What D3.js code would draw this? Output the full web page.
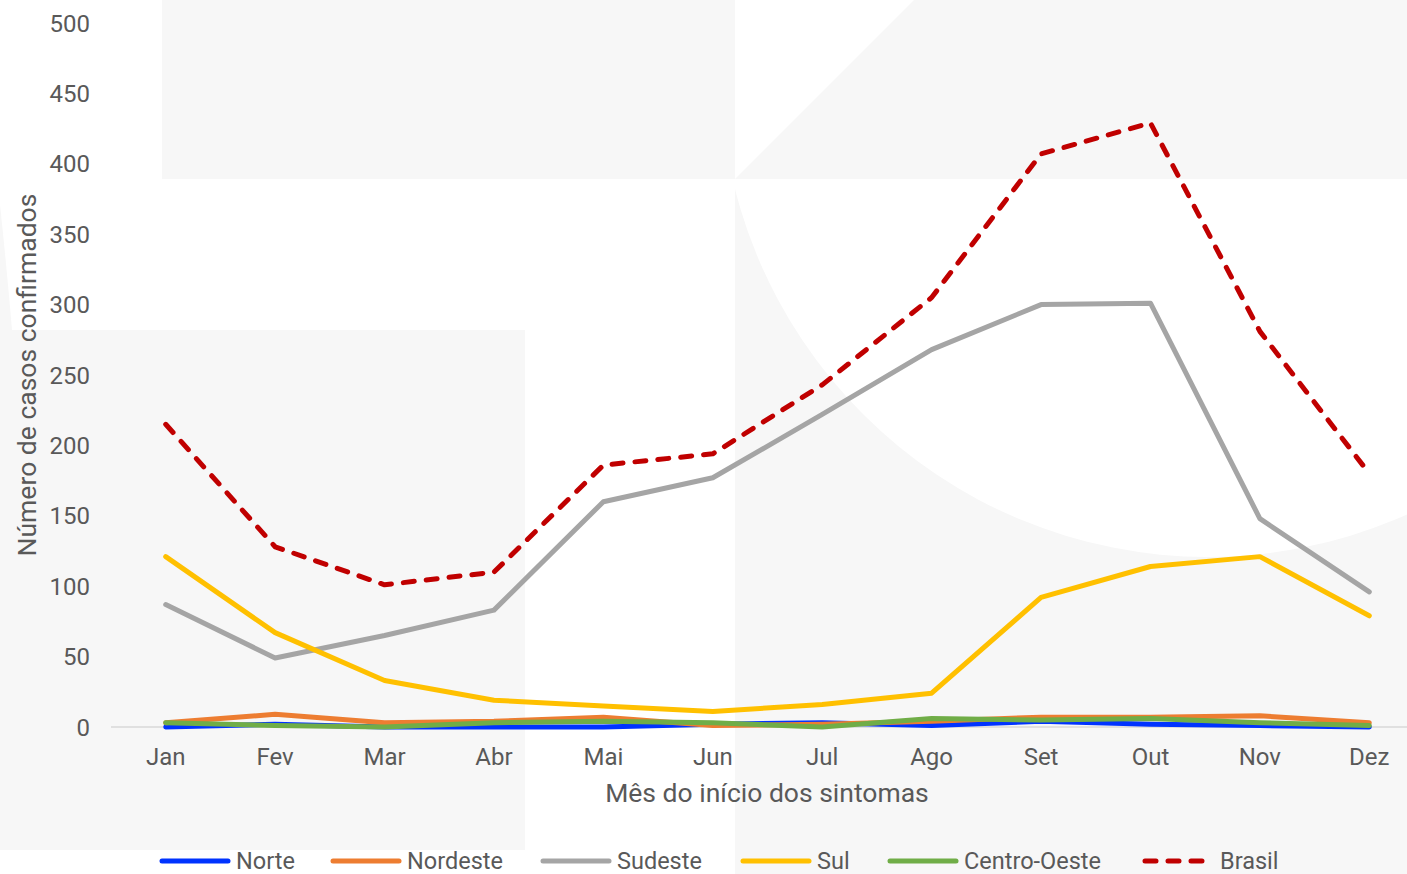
<!DOCTYPE html>
<html><head><meta charset="utf-8">
<script src="https://cdn.jsdelivr.net/npm/d3@7"></script>
<style>body{margin:0;background:#fff;overflow:hidden}svg{display:block}text{font-family:Roboto,"Liberation Sans",Arial,sans-serif;fill:#595959}</style>
</head><body><svg id="c" width="1407" height="874"></svg>
<script>
const months = ["Jan","Fev","Mar","Abr","Mai","Jun","Jul","Ago","Set","Out","Nov","Dez"];
const norte       = [0, 2, 0, 0, 0, 2, 3, 1, 4, 2, 1, 0];
const nordeste    = [3, 9, 3, 4, 7, 1, 2, 4, 7, 7, 8, 3];
const sudeste     = [87, 49, 65, 83, 160, 177, 222, 268, 300, 301, 148, 96];
const sul         = [121, 67, 33, 19, 15, 11, 16, 24, 92, 114, 121, 79];
const centroOeste = [3, 1, 0, 3, 4, 3, 0, 6, 5, 6, 3, 1];
const brasil      = [215, 128, 101, 110, 186, 194, 243, 305, 407, 429, 281, 180];
const yTicks = [0, 50, 100, 150, 200, 250, 300, 350, 400, 450, 500];
const seriesNames = ["Norte","Nordeste","Sudeste","Sul","Centro-Oeste","Brasil"];
const seriesColors = ["#0033ff","#ed7d31","#a5a5a5","#ffc000","#70ad47","#c00000"];

const series = [norte, nordeste, sudeste, sul, centroOeste, brasil].map((v,i)=>({name:seriesNames[i],color:seriesColors[i],values:v,dashed:i===5}));

const svg = d3.select("#c");
const bg = "#f7f7f7";
// background decorative shapes
const g0 = svg.append("g");
g0.append("rect").attr("x",0).attr("y",330).attr("width",525).attr("height",520).attr("fill",bg);
g0.append("path").attr("d","M0,205 Q6,260 12,330 L0,330 Z").attr("fill",bg);
g0.append("rect").attr("x",162).attr("y",0).attr("width",1245).attr("height",179).attr("fill",bg);
g0.append("path").attr("d","M735,0 L914,0 L735,179 Z").attr("fill","#fff");
g0.append("rect").attr("x",735).attr("y",179).attr("width",672).attr("height",695).attr("fill",bg);
g0.append("clipPath").attr("id","cc").append("rect").attr("x",735).attr("y",179).attr("width",672).attr("height",695);
g0.append("circle").attr("cx",1208).attr("cy",69).attr("r",488).attr("fill","#fff").attr("clip-path","url(#cc)");

const x = d3.scaleBand().domain(months).range([111, 1424]);
const xc = d => x(d) + x.bandwidth()/2;
const y = d3.scaleLinear().domain([0,500]).range([727,23]);

// x axis line
svg.append("line").attr("x1",x.range()[0]).attr("x2",x.range()[1]).attr("y1",y(0)).attr("y2",y(0)).attr("stroke","#d9d9d9").attr("stroke-width",1.5);

// y tick labels
svg.append("g").selectAll("text").data(yTicks).join("text")
  .attr("x",90).attr("y",d=>y(d)).attr("dy","0.36em").attr("text-anchor","end")
  .attr("font-size",24).text(d=>d);
// x labels
svg.append("g").selectAll("text").data(months).join("text")
  .attr("x",d=>xc(d)).attr("y",765).attr("text-anchor","middle").attr("font-size",24).text(d=>d);

// titles
svg.append("text").attr("x",767).attr("y",802).attr("text-anchor","middle").attr("font-size",26.5).text("Mês do início dos sintomas");
svg.append("text").attr("transform","translate(36,375) rotate(-90)").attr("text-anchor","middle").attr("font-size",26.5).text("Número de casos confirmados");

// lines
const line = d3.line().x((d,i)=>xc(months[i])).y(d=>y(d));
svg.append("g").selectAll("path").data(series).join("path")
  .attr("d",d=>line(d.values)).attr("fill","none").attr("stroke",d=>d.color)
  .attr("stroke-width",5).attr("stroke-linejoin","round")
  .attr("stroke-linecap","round")
  .attr("stroke-dasharray",d=>d.dashed?"11,12":null);

// legend
const legX = [160, 331, 541, 741, 888, 1143];
const lg = svg.append("g").selectAll("g").data(series).join("g").attr("transform",(d,i)=>`translate(${legX[i]},861)`);
lg.append("line").attr("x1",2).attr("x2",68).attr("y1",0).attr("y2",0).attr("stroke",d=>d.color).attr("stroke-width",5)
  .attr("stroke-linecap","round").attr("stroke-dasharray",d=>d.dashed?"11,12":null);
lg.append("text").attr("x",(d,i)=>i===5?77:76).attr("y",0).attr("dy","0.34em").attr("font-size",23.5).text(d=>d.name);
</script></body></html>
